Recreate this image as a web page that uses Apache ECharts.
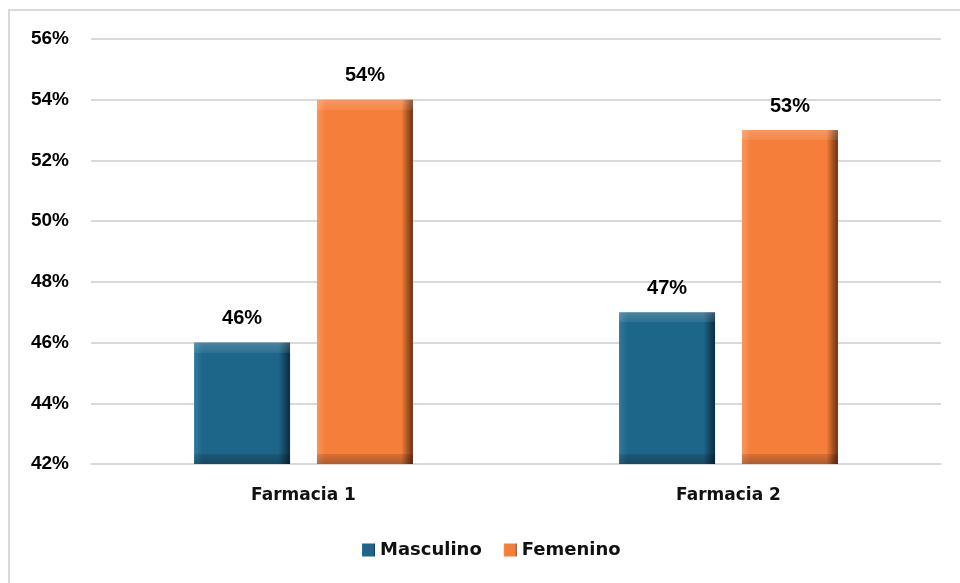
<!DOCTYPE html>
<html>
<head>
<meta charset="utf-8">
<script src="https://cdn.jsdelivr.net/npm/echarts@6/dist/echarts.min.js"></script>
<style>html,body{margin:0;padding:0;background:#fff;}#c{width:960px;height:583px;}</style>
</head>
<body>
<div id="c"></div>
<script>
const categories = ['Farmacia 1', 'Farmacia 2'];
const masculino = [46, 47];
const femenino = [54, 53];
const yTicks = { min: 42, max: 56, interval: 2 };

const chart = echarts.init(document.getElementById('c'));
const blue = '#1d6589', blueDark = '#0b2c3e', blueLight = '#2f7aa0';
const orange = '#f57e3a', orangeDark = '#6a3010', orangeLight = '#f8975c';
const numFont = "'Liberation Sans', Arial, sans-serif";

function sideGrad(light, base, dark) {
  return new echarts.graphic.LinearGradient(0, 0, 1, 0, [
    { offset: 0, color: light }, { offset: 0.09, color: base },
    { offset: 0.88, color: base }, { offset: 1, color: dark }
  ]);
}
function overlayGrad(h) {
  const t = Math.min(0.4, 10 / h);
  return new echarts.graphic.LinearGradient(0, 0, 0, 1, [
    { offset: 0, color: 'rgba(255,255,255,0.2)' }, { offset: t, color: 'rgba(255,255,255,0.08)' },
    { offset: t + 0.001, color: 'rgba(255,255,255,0)' }, { offset: 1 - t - 0.001, color: 'rgba(0,0,0,0)' },
    { offset: 1 - t, color: 'rgba(0,0,0,0.12)' }, { offset: 1, color: 'rgba(0,0,0,0.28)' }
  ]);
}

const labelStyle = { show: true, position: 'top', distance: 14, formatter: '{c}%', color: '#000', fontFamily: numFont, fontWeight: 'bold', fontSize: 20 };

const option = {
  animation: false,
  backgroundColor: '#fff',
  graphic: [{ type: 'rect', shape: { x: 9, y: 10, width: 980, height: 600 }, style: { fill: 'none', stroke: '#d9d9d9', lineWidth: 2 }, silent: true, z: -1 }],
  grid: { left: 91, right: 19, top: 39, bottom: 119 },
  legend: {
    bottom: 19, left: 357, itemWidth: 13, itemHeight: 13, itemGap: 22,
    textStyle: { fontFamily: 'DejaVu Sans', fontWeight: 'bold', fontSize: 18, color: '#111' },
    data: [{ name: 'Masculino', icon: 'rect' }, { name: 'Femenino', icon: 'rect' }]
  },
  xAxis: [{
    type: 'category', data: categories,
    axisLine: { show: false }, axisTick: { show: false },
    axisLabel: { margin: 23, color: '#111', fontFamily: 'DejaVu Sans', fontWeight: 'bold', fontSize: 17 }
  }, {
    type: 'category', data: categories, show: false
  }],
  yAxis: {
    type: 'value', min: yTicks.min, max: yTicks.max, interval: yTicks.interval,
    axisLine: { show: false }, axisTick: { show: false },
    splitLine: { lineStyle: { color: '#d9d9d9', width: 2 } },
    axisLabel: { formatter: '{value}%', margin: 22, color: '#000', fontFamily: numFont, fontWeight: 'bold', fontSize: 19 }
  },
  series: [
    { name: 'Masculino', type: 'bar', data: masculino, barWidth: 96, barGap: '28%',
      itemStyle: { color: sideGrad(blueLight, blue, blueDark) }, label: labelStyle },
    { name: 'Femenino', type: 'bar', data: femenino, barWidth: 96, barGap: '28%',
      itemStyle: { color: sideGrad(orangeLight, orange, orangeDark) }, label: labelStyle },
    { name: 'ov1', type: 'bar', xAxisIndex: 1, data: masculino, barWidth: 96, barGap: '28%', silent: true, z: 3 },
    { name: 'ov2', type: 'bar', xAxisIndex: 1, data: femenino, barWidth: 96, barGap: '28%', silent: true, z: 3 }
  ]
};
chart.setOption(option);

function withBevel(values) {
  const base = chart.convertToPixel({ yAxisIndex: 0 }, yTicks.min);
  return values.map(v => {
    const h = base - chart.convertToPixel({ yAxisIndex: 0 }, v);
    return { value: v, itemStyle: { color: overlayGrad(h) } };
  });
}
chart.setOption({ series: [{}, {}, { data: withBevel(masculino) }, { data: withBevel(femenino) }] });
</script>
</body>
</html>
